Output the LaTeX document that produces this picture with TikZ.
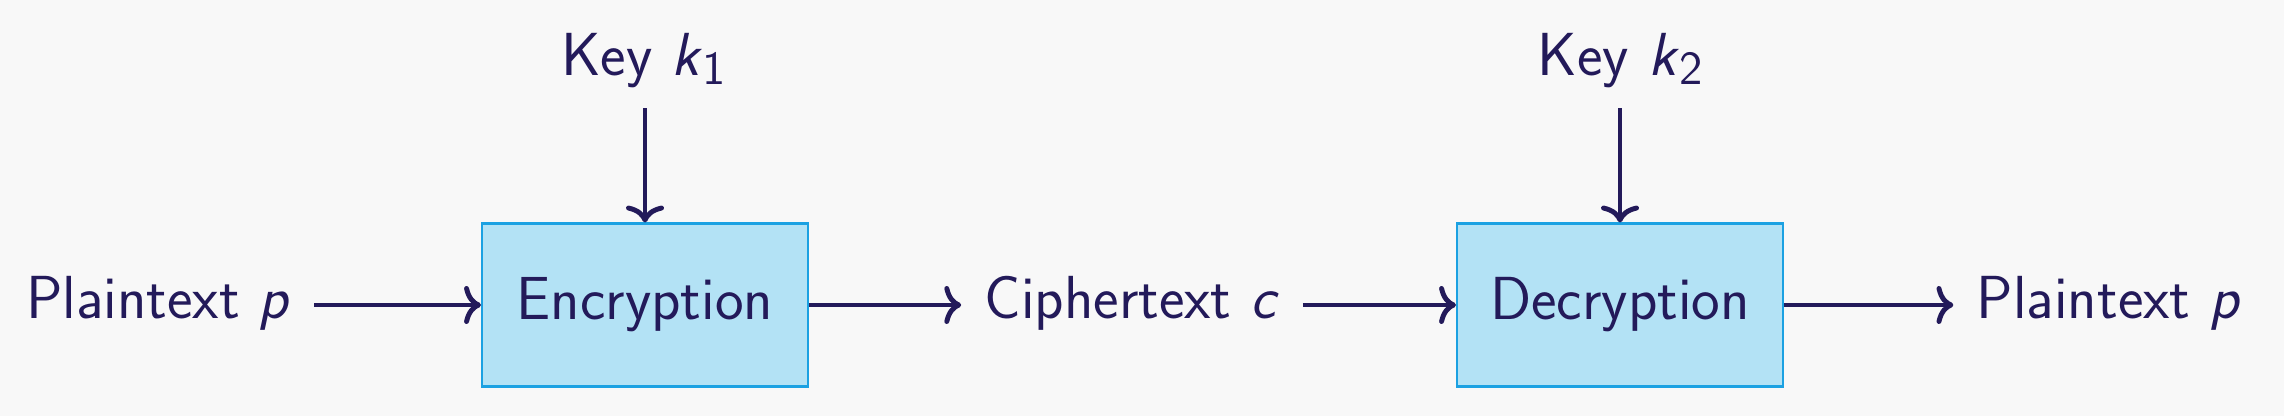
\documentclass[tikz,border=0pt]{standalone}
\usetikzlibrary{arrows.meta}
\definecolor{bgc}{HTML}{F8F8F8}
\definecolor{ink}{HTML}{231A5A}
\definecolor{boxfill}{HTML}{B3E2F5}
\definecolor{boxline}{HTML}{1BA1E2}
\newcommand\keysub[2]{\textit{#1}\raisebox{-2.4pt}{\fontsize{13.5}{15}\selectfont #2}}
\begin{document}
\begin{tikzpicture}[
  font=\sffamily\fontsize{17.3}{20}\selectfont,
  every node/.style={text=ink},
  lbl/.style={inner xsep=6.5pt, inner ysep=5.4pt, anchor=base},
  blk/.style={draw=boxline, fill=boxfill, line width=0.6pt, minimum width=3.26cm, minimum height=1.63cm, inner sep=0pt},
  conn/.style={draw=ink, line width=1.4pt, -{Computer Modern Rightarrow[length=4.8pt, width=10.8pt, line width=1.4pt]}}
]
\fill[bgc] (0,0) rectangle (22.84,4.16);
\useasboundingbox (0,0) rectangle (22.84,4.16);

\node[blk] (enc) at (6.45,1.11) {Encryption};
\node[blk] (dec) at (16.20,1.11) {Decryption};

\node[lbl] (pin) at (1.585,0.97) {Plaintext \textit{p}};
\node[lbl] (ct) at (11.32,0.97) {Ciphertext \textit{c}};
\node[lbl] (pout) at (21.09,0.97) {Plaintext \textit{p}};

\node[lbl] (k1) at (6.435,3.40) {Key \keysub{k}{1}};
\node[lbl] (k2) at (16.20,3.40) {Key \keysub{k}{2}};

\draw[conn] (pin.east |- enc.west) -- (enc.west);
\draw[conn] (enc.east) -- (ct.west |- enc.east);
\draw[conn] (ct.east |- dec.west) -- (dec.west);
\draw[conn] (dec.east) -- (pout.west |- dec.east);
\draw[conn] (enc.north |- k1.south) -- (enc.north);
\draw[conn] (dec.north |- k2.south) -- (dec.north);
\end{tikzpicture}
\end{document}
